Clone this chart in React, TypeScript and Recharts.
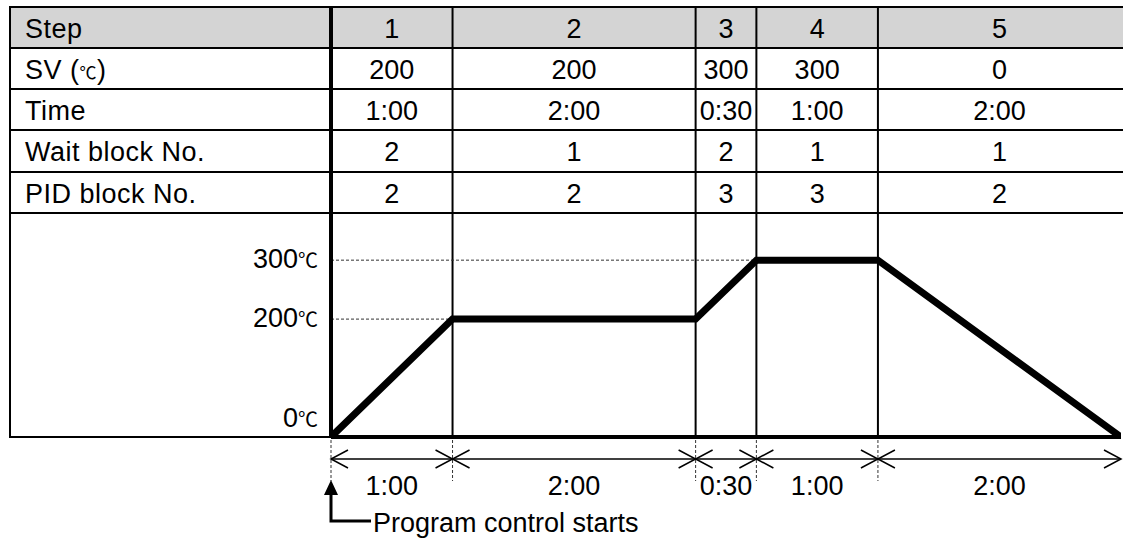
import React from "react";
import { LineChart, Line, XAxis, YAxis, ReferenceLine } from "recharts";

// program table
const stepNames = ["1", "2", "3", "4", "5"];
const svValues = [200, 200, 300, 300, 0];
const stepTimes = ["1:00", "2:00", "0:30", "1:00", "2:00"];
const waitBlocks = [2, 1, 2, 1, 1];
const pidBlocks = [2, 2, 3, 3, 2];

// profile: elapsed minutes at each step boundary and temperature reached there
const profileMinutes = [0, 60, 180, 210, 270, 390];
const profileTemps = [0, 200, 200, 300, 300, 0];
const tempTicks = [0, 200, 300];

const W = 1123;
const H = 540;
const PLOT_LEFT = 331;
const PLOT_RIGHT = 1121;
const PLOT_TOP = 213;
const PLOT_BOTTOM = 437;
const FONT = "'Liberation Sans', Arial, sans-serif";
const CJK = "'Noto Sans CJK JP', 'DejaVu Sans', sans-serif";
const TEXT_SIZE = 27;

const data = profileMinutes.map((t, i) => ({ t, temp: profileTemps[i] }));
const lastMinute = profileMinutes[profileMinutes.length - 1];
const midpoints = profileMinutes.slice(0, -1).map((t, i) => (t + profileMinutes[i + 1]) / 2);

// same linear mapping as the x axis, used only for the table grid above the plot
const colX = (t: number) => PLOT_LEFT + (t / lastMinute) * (PLOT_RIGHT - PLOT_LEFT);

const rowLines = [7, 48, 89, 130, 172, 213];
const rows: { label: React.ReactNode; values: (string | number)[] }[] = [
  { label: "Step", values: stepNames },
  {
    label: (
      <>
        SV (<tspan fontFamily={CJK} fontSize={17}>℃</tspan>)
      </>
    ),
    values: svValues,
  },
  { label: "Time", values: stepTimes },
  { label: "Wait block No.", values: waitBlocks },
  { label: "PID block No.", values: pidBlocks },
];

function TempTick(props: any) {
  const { x, y, payload } = props;
  const base = payload.value === 0 ? y - 10 : y + 8;
  return (
    <text x={x} y={base} textAnchor="end" fill="#000" fontFamily={FONT}>
      <tspan fontSize={TEXT_SIZE}>{payload.value}</tspan>
      <tspan fontSize={20} fontFamily={CJK}>℃</tspan>
    </text>
  );
}

function BoundaryTick(props: any) {
  const { x, y, payload } = props;
  const v = payload.value;
  const ay = y + 22;
  const first = v === profileMinutes[0];
  const last = v === lastMinute;
  return (
    <g>
      {!last && (
        <line x1={x} y1={y + 3} x2={x} y2={y + 44} stroke="#333" strokeWidth={1} strokeDasharray="3 2" />
      )}
      {!first && (
        <polyline points={`${x - 17},${ay - 9} ${x},${ay} ${x - 17},${ay + 9}`} fill="none" stroke="#000" strokeWidth={1.5} />
      )}
      {!last && (
        <polyline points={`${x + 17},${ay - 9} ${x},${ay} ${x + 17},${ay + 9}`} fill="none" stroke="#000" strokeWidth={1.5} />
      )}
      {first && (
        <g>
          <polygon points={`${x},${y + 43} ${x - 7},${y + 58} ${x + 7},${y + 58}`} fill="#000" />
          <polyline points={`${x},${y + 56} ${x},${y + 84} ${x + 40},${y + 84}`} fill="none" stroke="#000" strokeWidth={3} />
          <text x={x + 42} y={y + 95} fontSize={TEXT_SIZE} fontFamily={FONT} fill="#000">
            Program control starts
          </text>
        </g>
      )}
    </g>
  );
}

function DurationTick(props: any) {
  const { x, y, payload } = props;
  const i = midpoints.indexOf(payload.value);
  return (
    <text x={x} y={y + 36} textAnchor="middle" fontSize={TEXT_SIZE} fontFamily={FONT} fill="#000">
      {stepTimes[i]}
    </text>
  );
}

function ProgramTable() {
  return (
    <svg width={W} height={H} style={{ position: "absolute", left: 0, top: 0 }}>
      <rect x={10} y={rowLines[0]} width={W - 10} height={rowLines[1] - rowLines[0]} fill="#d4d4d4" />
      {rowLines.map((y) => (
        <line key={y} x1={9} y1={y} x2={W} y2={y} stroke="#000" strokeWidth={2} />
      ))}
      <line x1={10} y1={6} x2={10} y2={PLOT_BOTTOM + 1} stroke="#000" strokeWidth={2} />
      <line x1={9} y1={PLOT_BOTTOM} x2={PLOT_LEFT} y2={PLOT_BOTTOM} stroke="#000" strokeWidth={2} />
      <line x1={PLOT_LEFT} y1={6} x2={PLOT_LEFT} y2={PLOT_TOP} stroke="#000" strokeWidth={4} />
      {profileMinutes.slice(1, -1).map((t) => (
        <line key={t} x1={colX(t)} y1={6} x2={colX(t)} y2={PLOT_TOP} stroke="#000" strokeWidth={2} />
      ))}
      {rows.map((row, r) => {
        const base = (rowLines[r] + rowLines[r + 1]) / 2 + 10;
        return (
          <g key={r} fontFamily={FONT} fontSize={TEXT_SIZE} fill="#000">
            <text x={25} y={base} letterSpacing={0.5}>
              {row.label}
            </text>
            {row.values.map((v, c) => (
              <text key={c} x={(colX(profileMinutes[c]) + colX(profileMinutes[c + 1])) / 2} y={base} textAnchor="middle">
                {v}
              </text>
            ))}
          </g>
        );
      })}
    </svg>
  );
}

export default function App() {
  const levelLines = [200, 300].map((level) => ({
    level,
    until: profileMinutes[profileTemps.indexOf(level)],
  }));
  return (
    <div style={{ position: "relative", width: W, height: H, overflow: "hidden", background: "#fff" }}>
      <style>{"body{margin:0}"}</style>
      <ProgramTable />
      <div style={{ position: "absolute", left: 0, top: 0 }}>
        <LineChart
          width={W}
          height={H}
          data={data}
          margin={{ top: PLOT_TOP, right: W - PLOT_RIGHT, bottom: 0, left: PLOT_LEFT - 80 }}
        >
          <XAxis
            xAxisId="span"
            type="number"
            dataKey="t"
            domain={[0, lastMinute]}
            allowDataOverflow
            ticks={midpoints}
            interval={0}
            height={H - PLOT_BOTTOM - 22}
            tickSize={0}
            tickMargin={0}
            tickLine={false}
            axisLine={{ stroke: "#000", strokeWidth: 1.5 }}
            tick={<DurationTick />}
          />
          <XAxis
            xAxisId="bound"
            type="number"
            dataKey="t"
            domain={[0, lastMinute]}
            allowDataOverflow
            ticks={profileMinutes}
            interval={0}
            height={22}
            tickSize={0}
            tickMargin={0}
            tickLine={false}
            axisLine={{ stroke: "#000", strokeWidth: 4 }}
            tick={<BoundaryTick />}
          />
          <YAxis
            type="number"
            domain={[0, 380]}
            allowDataOverflow
            ticks={tempTicks}
            interval={0}
            width={80}
            tickSize={0}
            tickMargin={13}
            tickLine={false}
            axisLine={{ stroke: "#000", strokeWidth: 4 }}
            tick={<TempTick />}
          />
          {profileMinutes.slice(1, -1).map((t) => (
            <ReferenceLine key={t} xAxisId="bound" x={t} stroke="#000" strokeWidth={2} />
          ))}
          {levelLines.map((l) => (
            <ReferenceLine
              key={l.level}
              xAxisId="bound"
              segment={[
                { x: 0, y: l.level },
                { x: l.until, y: l.level },
              ]}
              stroke="#333"
              strokeWidth={1}
              strokeDasharray="3 2"
            />
          ))}
          <Line
            xAxisId="bound"
            type="linear"
            dataKey="temp"
            stroke="#000"
            strokeWidth={7}
            dot={false}
            isAnimationActive={false}
          />
        </LineChart>
      </div>
    </div>
  );
}
